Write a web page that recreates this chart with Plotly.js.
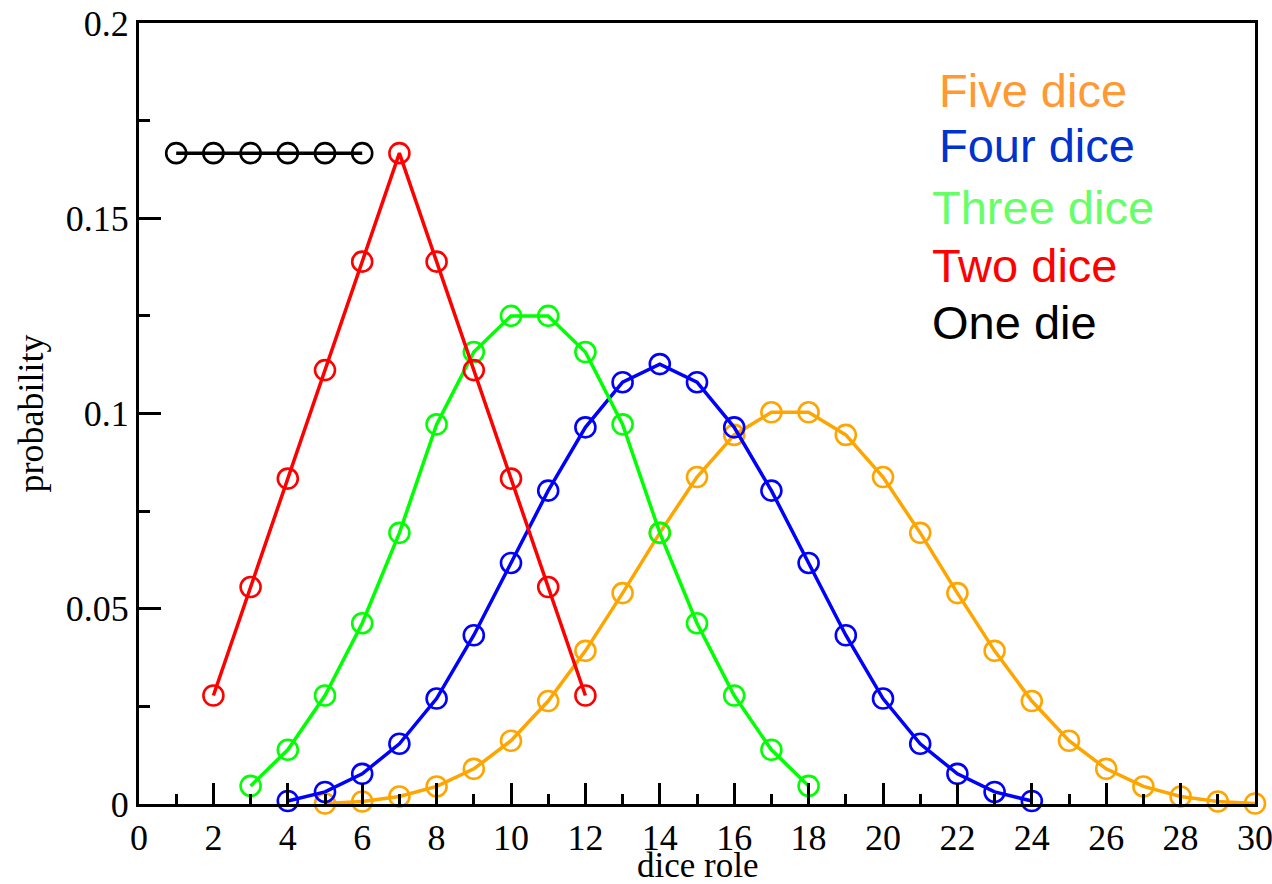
<!DOCTYPE html>
<html>
<head>
<meta charset="utf-8">
<script src="https://cdn.plot.ly/plotly-3.0.1.min.js"></script>
<style>html,body{margin:0;padding:0;background:#fff;}#chart{width:1272px;height:884px;}</style>
</head>
<body>
<div id="chart"></div>
<script>
// Data
const xOne = [1, 2, 3, 4, 5, 6];
const yOne = [0.16667, 0.16667, 0.16667, 0.16667, 0.16667, 0.16667];

const xTwo = [2, 3, 4, 5, 6, 7, 8, 9, 10, 11, 12];
const yTwo = [0.02778, 0.05556, 0.08333, 0.11111, 0.13889, 0.16667, 0.13889, 0.11111, 0.08333, 0.05556, 0.02778];

const xThree = [3, 4, 5, 6, 7, 8, 9, 10, 11, 12, 13, 14, 15, 16, 17, 18];
const yThree = [0.00463, 0.01389, 0.02778, 0.04630, 0.06944, 0.09722, 0.11574, 0.12500, 0.12500, 0.11574, 0.09722, 0.06944, 0.04630, 0.02778, 0.01389, 0.00463];

const xFour = [4, 5, 6, 7, 8, 9, 10, 11, 12, 13, 14, 15, 16, 17, 18, 19, 20, 21, 22, 23, 24];
const yFour = [0.00077, 0.00309, 0.00772, 0.01543, 0.02701, 0.04321, 0.06173, 0.08025, 0.09645, 0.10802, 0.11265, 0.10802, 0.09645, 0.08025, 0.06173, 0.04321, 0.02701, 0.01543, 0.00772, 0.00309, 0.00077];

const xFive = [5, 6, 7, 8, 9, 10, 11, 12, 13, 14, 15, 16, 17, 18, 19, 20, 21, 22, 23, 24, 25, 26, 27, 28, 29, 30];
const yFive = [0.00013, 0.00064, 0.00193, 0.00450, 0.00900, 0.01620, 0.02636, 0.03922, 0.05401, 0.06944, 0.08372, 0.09452, 0.10031, 0.10031, 0.09452, 0.08372, 0.06944, 0.05401, 0.03922, 0.02636, 0.01620, 0.00900, 0.00450, 0.00193, 0.00064, 0.00013];

const legendLabels = ["Five dice", "Four dice", "Three dice", "Two dice", "One die"];
const xTickVals = [0, 2, 4, 6, 8, 10, 12, 14, 16, 18, 20, 22, 24, 26, 28, 30];
const yTickVals = [0, 0.05, 0.1, 0.15, 0.2];
const xTitle = 'dice role';
const yTitle = 'probability';

function series(x, y, color) {
  return {
    x: x, y: y, type: 'scatter', mode: 'lines+markers', cliponaxis: false,
    line: {color: color, width: 3.5},
    marker: {symbol: 'circle-open', size: 20, color: color, line: {color: color, width: 2.6}},
    showlegend: false, hoverinfo: 'x+y'
  };
}

const data = [
  series(xFive, yFive, '#FFA500'),
  series(xFour, yFour, '#0000FF'),
  series(xThree, yThree, '#00FF00'),
  series(xTwo, yTwo, '#FF0000'),
  series(xOne, yOne, '#000000')
];

const legendColors = ['#FF9933', '#0033CC', '#66FF66', '#FF0000', '#000000'];
const legendX = [937, 937, 930, 930, 930];
const legendYpx = [90, 146, 208, 265, 322];
const plotTop = 23, plotBottom = 804, plotLeft = 139, plotRight = 1255;
const serif = 'Liberation Serif, Times New Roman, serif';

const annotations = legendLabels.map((t, i) => ({
  text: t, xref: 'paper', yref: 'paper',
  x: (legendX[i] - plotLeft) / (plotRight - plotLeft),
  y: (plotBottom - legendYpx[i]) / (plotBottom - plotTop),
  xanchor: 'left', yanchor: 'middle', showarrow: false,
  font: {family: 'Liberation Sans, Arial, sans-serif', size: 47, color: legendColors[i]}
}));
annotations.push({
  text: xTitle, xref: 'paper', yref: 'paper', x: 0.5,
  y: (plotBottom - 886) / (plotBottom - plotTop),
  xanchor: 'center', yanchor: 'bottom', showarrow: false, borderpad: 0,
  font: {family: serif, size: 35, color: '#000'}
});

const layout = {
  width: 1272, height: 884,
  margin: {l: plotLeft, r: 1272 - plotRight, t: plotTop, b: 884 - plotBottom},
  paper_bgcolor: '#fff', plot_bgcolor: '#fff',
  xaxis: {
    range: [0, 30], tickvals: xTickVals, ticks: 'inside', ticklen: 21, tickwidth: 3, tickcolor: '#000',
    minor: {dtick: 1, ticks: 'inside', ticklen: 10, tickwidth: 3, tickcolor: '#000', showgrid: false},
    showline: true, linewidth: 3, linecolor: '#000', mirror: true, showgrid: false, zeroline: false,
    ticklabeloverflow: 'allow',
    tickfont: {family: serif, size: 36, color: '#000'}
  },
  yaxis: {
    range: [0, 0.2], tickvals: yTickVals, ticks: 'inside', ticklen: 22, tickwidth: 3, tickcolor: '#000',
    minor: {dtick: 0.025, ticks: 'inside', ticklen: 11, tickwidth: 3, tickcolor: '#000', showgrid: false},
    showline: true, linewidth: 3, linecolor: '#000', mirror: true, showgrid: false, zeroline: false,
    tickfont: {family: serif, size: 36, color: '#000'},
    title: {text: yTitle, font: {family: serif, size: 36, color: '#000'}, standoff: 12}
  },
  annotations: annotations
};

Plotly.newPlot('chart', data, layout, {displayModeBar: false, staticPlot: true});
</script>
</body>
</html>
